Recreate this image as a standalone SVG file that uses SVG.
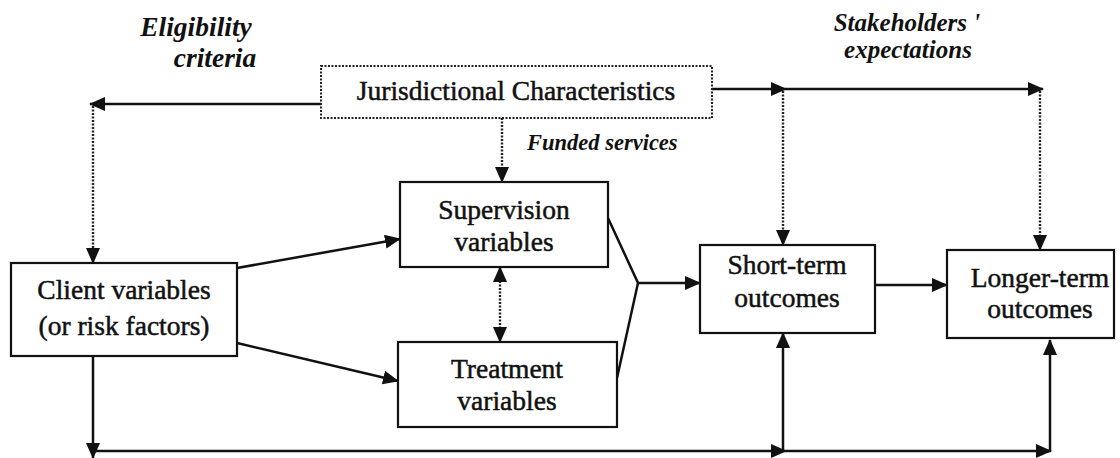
<svg xmlns="http://www.w3.org/2000/svg" width="1120" height="458" viewBox="0 0 1120 458">
<style>
.box{fill:#fff;stroke:#111;stroke-width:2.2}
.dbox{fill:#fff;stroke:#222;stroke-width:2;stroke-dasharray:2 1.5}
.t{font-family:"Liberation Serif","Times New Roman",serif;font-size:27.5px;fill:#111;stroke:#111;stroke-width:0.5;text-anchor:middle}
.it{font-family:"Liberation Serif","Times New Roman",serif;font-style:italic;font-weight:bold;fill:#111;text-anchor:middle}
.its{font-family:"Liberation Serif","Times New Roman",serif;font-style:italic;font-weight:bold;fill:#111;text-anchor:start}
.ln{fill:none;stroke:#111;stroke-width:2.5}
.dl{fill:none;stroke:#222;stroke-width:2.4;stroke-dasharray:2 1.5}
</style>
<defs>
<marker id="ah" markerUnits="userSpaceOnUse" markerWidth="18" markerHeight="16" refX="15" refY="7" orient="auto-start-reverse">
<path d="M0,0 L16,7 L0,14 Z" fill="#111" stroke="none"/>
</marker>
</defs>
<g id="labels">
<text class="it" x="196" y="36" font-size="27.5">Eligibility</text>
<text class="it" x="215" y="67" font-size="27.5">criteria</text>
<text class="it" x="907" y="31" font-size="25">Stakeholders '</text>
<text class="it" x="908" y="58" font-size="25">expectations</text>
<text class="its" x="527" y="150" font-size="22.5">Funded services</text>
</g>
<g id="connectors">
<line class="ln" x1="321" y1="104" x2="90" y2="104" marker-end="url(#ah)"/>
<line class="dl" x1="93" y1="106" x2="93" y2="263" marker-end="url(#ah)"/>
<line class="dl" x1="502" y1="118" x2="502" y2="182" marker-end="url(#ah)"/>
<line class="dl" x1="500" y1="267" x2="500" y2="342" marker-start="url(#ah)" marker-end="url(#ah)"/>
<line class="ln" x1="712" y1="89" x2="786" y2="89" marker-end="url(#ah)"/>
<line class="ln" x1="786" y1="89" x2="1043" y2="89" marker-end="url(#ah)"/>
<line class="dl" x1="783" y1="91" x2="783" y2="245" marker-end="url(#ah)"/>
<line class="dl" x1="1040" y1="91" x2="1040" y2="250" marker-end="url(#ah)"/>
<line class="ln" x1="237" y1="268" x2="400" y2="239" marker-end="url(#ah)"/>
<line class="ln" x1="237" y1="343" x2="398" y2="381" marker-end="url(#ah)"/>
<polyline class="ln" points="608,218 638,283 617,378" stroke-width="3"/>
<line class="ln" x1="638" y1="283" x2="700" y2="283" marker-end="url(#ah)"/>
<line class="ln" x1="875" y1="285" x2="947" y2="285" marker-end="url(#ah)"/>
<line class="ln" x1="93" y1="356" x2="93" y2="458" marker-end="url(#ah)"/>
<line class="ln" x1="93" y1="451" x2="786" y2="451" marker-end="url(#ah)"/>
<line class="ln" x1="786" y1="451" x2="1051" y2="451" marker-end="url(#ah)"/>
<line class="ln" x1="783" y1="451" x2="783" y2="333" marker-end="url(#ah)"/>
<line class="ln" x1="1050" y1="451" x2="1050" y2="340" marker-end="url(#ah)"/>
</g>
<g id="jurisdictional">
<rect class="dbox" x="321" y="66" width="391" height="52"/>
<text class="t" x="516" y="100">Jurisdictional Characteristics</text>
</g>
<g id="client">
<rect class="box" x="11" y="263" width="226" height="93"/>
<text class="t" x="124" y="299">Client variables</text>
<text class="t" x="124" y="335">(or risk factors)</text>
</g>
<g id="supervision">
<rect class="box" x="400" y="182" width="208" height="85"/>
<text class="t" x="504" y="219">Supervision</text>
<text class="t" x="504" y="251">variables</text>
</g>
<g id="treatment">
<rect class="box" x="398" y="342" width="219" height="85"/>
<text class="t" x="507" y="378">Treatment</text>
<text class="t" x="507" y="410">variables</text>
</g>
<g id="shortterm">
<rect class="box" x="700" y="245" width="175" height="88"/>
<text class="t" x="787" y="274">Short-term</text>
<text class="t" x="787" y="307">outcomes</text>
</g>
<g id="longerterm">
<rect class="box" x="947" y="250" width="167" height="88"/>
<text class="t" x="1040" y="287">Longer-term</text>
<text class="t" x="1040" y="318">outcomes</text>
</g>
</svg>
